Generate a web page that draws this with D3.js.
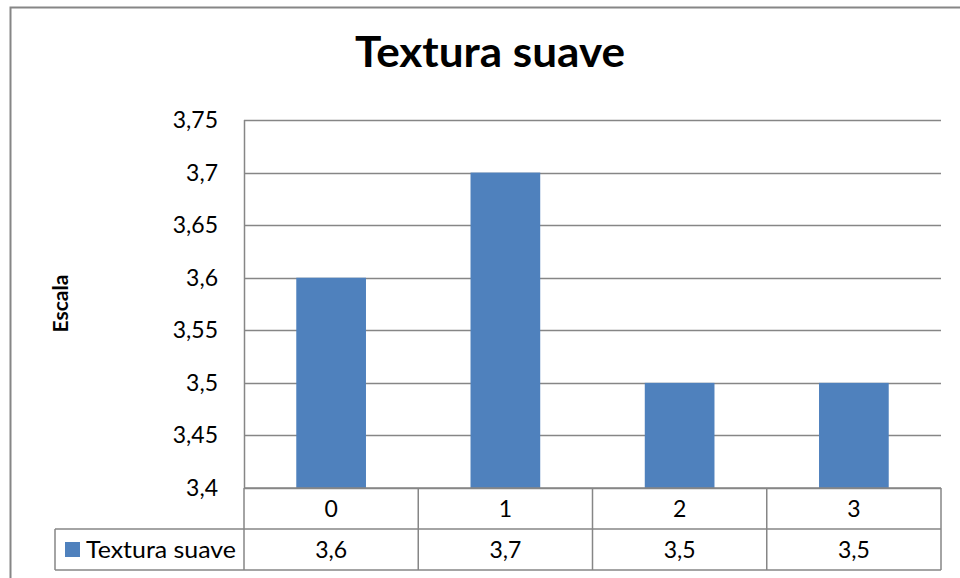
<!DOCTYPE html>
<html><head><meta charset="utf-8">
<script src="https://cdn.jsdelivr.net/npm/d3@7"></script>
<style>body{margin:0;background:#fff}svg{display:block}</style>
</head><body>
<script>
const categories = ["0","1","2","3"];
const values = [3.6, 3.7, 3.5, 3.5];
const valueLabels = ["3,6","3,7","3,5","3,5"];
const yTicks = [3.4, 3.45, 3.5, 3.55, 3.6, 3.65, 3.7, 3.75];
const seriesName = "Textura suave";
const title = "Textura suave";
const yTitle = "Escala";

(function(){
const W = 960, H = 578;
const font = "Lato, 'Open Sans', sans-serif";
const fs = 23;
const svg = d3.select("body").append("svg").attr("width", W).attr("height", H);

svg.append("rect").attr("x", 10.5).attr("y", 7.5).attr("width", 980).attr("height", 600)
  .attr("fill", "none").attr("stroke", "#868686").attr("stroke-width", 2);

const pL = 244, pR = 941, pT = 120, pB = 488;
const xb = d3.scaleBand().domain(categories).range([pL, pR]);
const y = d3.scaleLinear().domain([3.4, 3.75]).range([pB, pT]);
const fmt = d => d3.format(".2~f")(d).replace(".", ",");

const grid = "#868686";
svg.append("g").selectAll("line").data(yTicks).join("line")
  .attr("x1", pL).attr("x2", pR).attr("y1", d => Math.round(y(d)) + 0.5).attr("y2", d => Math.round(y(d)) + 0.5)
  .attr("stroke", grid).attr("stroke-width", 1.5);

svg.append("g").selectAll("rect").data(values).join("rect")
  .attr("x", (d, i) => xb(categories[i]) + xb.bandwidth() * 0.3)
  .attr("width", xb.bandwidth() * 0.4)
  .attr("y", d => y(d)).attr("height", d => pB - y(d))
  .attr("fill", "#4F81BD");

svg.append("line").attr("x1", pL + 0.5).attr("x2", pL + 0.5).attr("y1", pT).attr("y2", pB)
  .attr("stroke", grid).attr("stroke-width", 1.5);

svg.append("g").selectAll("text").data(yTicks).join("text")
  .attr("x", 218).attr("y", d => y(d)).attr("dy", "0.35em")
  .attr("text-anchor", "end").attr("font-family", font).attr("font-size", fs).attr("fill", "#000")
  .text(fmt);

const row1 = 488, row2 = 529, row3 = 570, legLeft = 55;
const tg = svg.append("g").attr("stroke", grid).attr("stroke-width", 1.5).attr("fill", "none");
tg.append("line").attr("x1", pL).attr("x2", pR).attr("y1", row1).attr("y2", row1);
tg.append("line").attr("x1", legLeft).attr("x2", pR).attr("y1", row2).attr("y2", row2);
tg.append("line").attr("x1", legLeft).attr("x2", pR).attr("y1", row3).attr("y2", row3);
tg.append("line").attr("x1", legLeft).attr("x2", legLeft).attr("y1", row2).attr("y2", row3);
tg.selectAll("line.v").data(categories).join("line").attr("class", "v")
  .attr("x1", d => xb(d) + xb.bandwidth()).attr("x2", d => xb(d) + xb.bandwidth())
  .attr("y1", row1).attr("y2", row3);
tg.append("line").attr("x1", pL).attr("x2", pL).attr("y1", row1).attr("y2", row3);

svg.append("g").selectAll("text").data(categories).join("text")
  .attr("x", d => xb(d) + xb.bandwidth() / 2).attr("y", 509).attr("dy", "0.35em")
  .attr("text-anchor", "middle").attr("font-family", font).attr("font-size", fs).text(d => d);
svg.append("g").selectAll("text").data(valueLabels).join("text")
  .attr("x", (d, i) => xb(categories[i]) + xb.bandwidth() / 2).attr("y", 550).attr("dy", "0.35em")
  .attr("text-anchor", "middle").attr("font-family", font).attr("font-size", fs).text(d => d);

svg.append("rect").attr("x", 65).attr("y", 542).attr("width", 15).attr("height", 15).attr("fill", "#4F81BD");
svg.append("text").attr("x", 86).attr("y", 550).attr("dy", "0.35em")
  .attr("font-family", font).attr("font-size", fs).attr("textLength", 150).attr("lengthAdjust", "spacingAndGlyphs").text(seriesName);

svg.append("text").attr("x", 490).attr("y", 67)
  .attr("text-anchor", "middle")
  .attr("font-family", font).attr("font-weight", "bold").attr("font-size", 42)
  .attr("textLength", 270).attr("lengthAdjust", "spacingAndGlyphs").text(title);

svg.append("text").attr("transform", "translate(68,303.5) rotate(-90)")
  .attr("text-anchor", "middle").attr("font-family", font).attr("font-weight", "bold").attr("font-size", 21).text(yTitle);
})();
</script>
</body></html>
